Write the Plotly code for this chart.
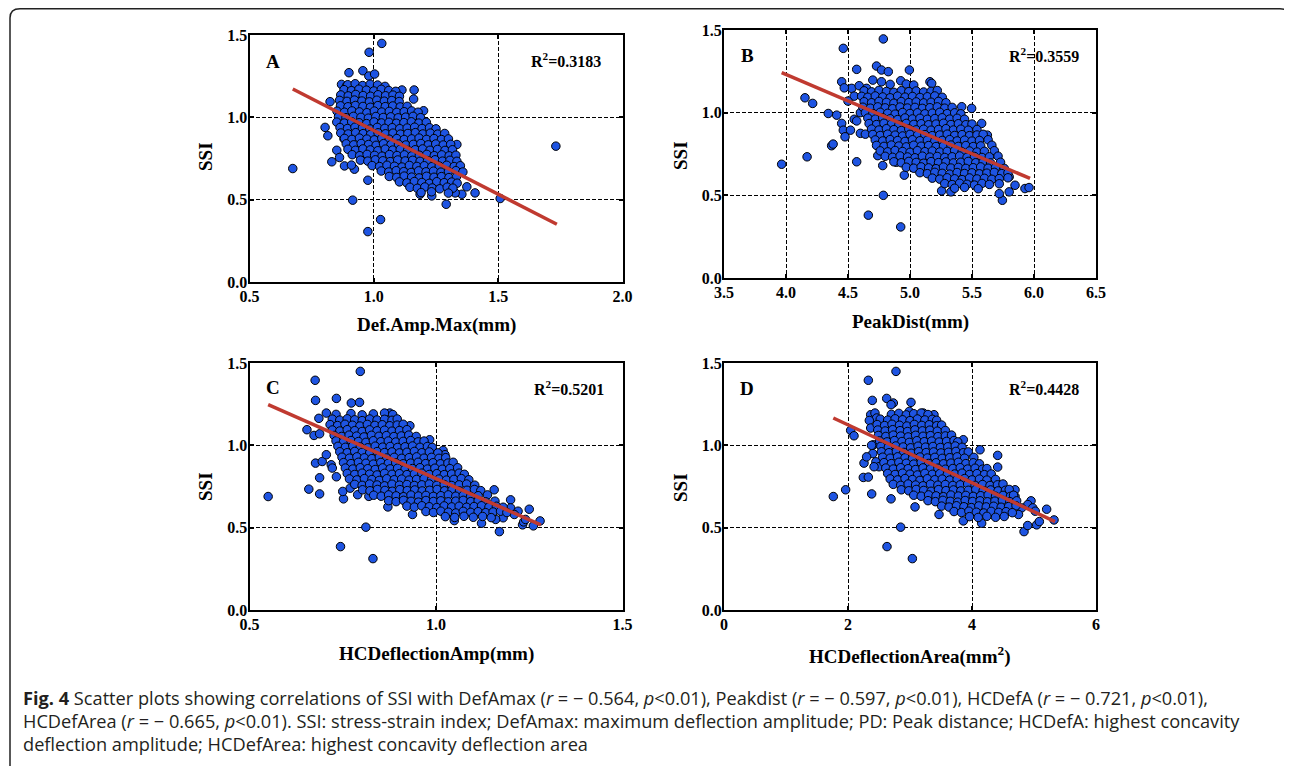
import plotly.graph_objects as go

# page body has an 8px margin: draw the figure 8px in from the window edges
OX, OY = 8, 8
W, H = 1284, 758

# ---------------- data ----------------
SSI_TICKS = [0.0, 0.5, 1.0, 1.5]

# Panel A: Def.Amp.Max (mm) vs SSI
A_pts = [
    (0.674, 0.689), (1.732, 0.825), (0.981, 1.395), (1.032, 1.449), (0.976, 0.306), (1.027, 0.379),
    (0.915, 0.497), (1.291, 0.472), (1.508, 0.507), (1.407, 0.541), (0.976, 0.618), (0.900, 1.271),
    (0.956, 1.283), (0.980, 1.251), (1.003, 1.263), (0.804, 0.939), (0.815, 0.888), (0.831, 0.730),
    (0.851, 0.800), (0.862, 0.756), (0.882, 0.705), (0.922, 0.685), (0.824, 1.095), (1.113, 1.166),
    (1.162, 1.166), (1.160, 1.111), (1.200, 1.040), (1.334, 0.835), (1.374, 0.578), (1.354, 0.533),
    (1.327, 0.541), (1.233, 0.523), (1.186, 0.533), (0.910, 0.710), (0.870, 0.935), (0.880, 0.870),
    (0.900, 0.840), (0.870, 1.200), (0.890, 1.190),
    (0.895, 1.198), (0.925, 1.204), (0.955, 1.193), (0.985, 1.201), (1.015, 1.196), (1.045, 1.188),
    (0.880, 1.168), (0.910, 1.162), (0.940, 1.171), (0.970, 1.165), (1.000, 1.160), (1.030, 1.170), (1.060, 1.163), (1.088, 1.158),
    (0.867, 1.136), (0.897, 1.130), (0.927, 1.139), (0.957, 1.132), (0.987, 1.128), (1.017, 1.137), (1.047, 1.131), (1.077, 1.135), (1.103, 1.128),
    (0.862, 1.103), (0.892, 1.097), (0.922, 1.105), (0.952, 1.099), (0.982, 1.094), (1.012, 1.104), (1.042, 1.098), (1.072, 1.102), (1.102, 1.096),
    (0.866, 1.070), (0.896, 1.064), (0.926, 1.072), (0.956, 1.066), (0.986, 1.061), (1.016, 1.071), (1.046, 1.065), (1.076, 1.069), (1.106, 1.063), (1.134, 1.067),
    (0.852, 1.037), (0.882, 1.031), (0.912, 1.039), (0.942, 1.033), (0.972, 1.028), (1.002, 1.038), (1.032, 1.032), (1.062, 1.036), (1.092, 1.030), (1.122, 1.034), (1.152, 1.039), (1.178, 1.031),
    (0.858, 1.004), (0.888, 0.998), (0.918, 1.006), (0.948, 1.000), (0.978, 0.995), (1.008, 1.005), (1.038, 0.999), (1.068, 1.003), (1.098, 0.997), (1.128, 1.001), (1.158, 1.006), (1.188, 0.998),
    (0.851, 0.971), (0.881, 0.965), (0.911, 0.973), (0.941, 0.967), (0.971, 0.962), (1.001, 0.972), (1.031, 0.966), (1.061, 0.970), (1.091, 0.964), (1.121, 0.968), (1.151, 0.973), (1.181, 0.965), (1.211, 0.970),
    (0.864, 0.938), (0.894, 0.932), (0.924, 0.940), (0.954, 0.934), (0.984, 0.929), (1.014, 0.939), (1.044, 0.933), (1.074, 0.937), (1.104, 0.931), (1.134, 0.935), (1.164, 0.940), (1.194, 0.932), (1.224, 0.937), (1.250, 0.930),
    (0.867, 0.905), (0.897, 0.899), (0.927, 0.907), (0.957, 0.901), (0.987, 0.896), (1.017, 0.906), (1.047, 0.900), (1.077, 0.904), (1.107, 0.898), (1.137, 0.902), (1.167, 0.907), (1.197, 0.899), (1.227, 0.904), (1.257, 0.898), (1.285, 0.902),
    (0.882, 0.872), (0.912, 0.866), (0.942, 0.874), (0.972, 0.868), (1.002, 0.863), (1.032, 0.873), (1.062, 0.867), (1.092, 0.871), (1.122, 0.865), (1.152, 0.869), (1.182, 0.874), (1.212, 0.866), (1.242, 0.871), (1.272, 0.865), (1.300, 0.869),
    (0.889, 0.839), (0.919, 0.833), (0.949, 0.841), (0.979, 0.835), (1.009, 0.830), (1.039, 0.840), (1.069, 0.834), (1.099, 0.838), (1.129, 0.832), (1.159, 0.836), (1.189, 0.841), (1.219, 0.833), (1.249, 0.838), (1.279, 0.832), (1.309, 0.836),
    (0.896, 0.806), (0.926, 0.800), (0.956, 0.808), (0.986, 0.802), (1.016, 0.797), (1.046, 0.807), (1.076, 0.801), (1.106, 0.805), (1.136, 0.799), (1.166, 0.803), (1.196, 0.808), (1.226, 0.800), (1.256, 0.805), (1.286, 0.799), (1.316, 0.803),
    (0.913, 0.773), (0.943, 0.767), (0.973, 0.775), (1.003, 0.769), (1.033, 0.764), (1.063, 0.774), (1.093, 0.768), (1.123, 0.772), (1.153, 0.766), (1.183, 0.770), (1.213, 0.775), (1.243, 0.767), (1.273, 0.772), (1.303, 0.766), (1.330, 0.770),
    (0.946, 0.740), (0.976, 0.734), (1.006, 0.742), (1.036, 0.736), (1.066, 0.731), (1.096, 0.741), (1.126, 0.735), (1.156, 0.739), (1.186, 0.733), (1.216, 0.737), (1.246, 0.742), (1.276, 0.734), (1.306, 0.739), (1.334, 0.733),
    (0.993, 0.707), (1.023, 0.701), (1.053, 0.709), (1.083, 0.703), (1.113, 0.698), (1.143, 0.708), (1.173, 0.702), (1.203, 0.706), (1.233, 0.700), (1.263, 0.704), (1.293, 0.709), (1.323, 0.701), (1.348, 0.706),
    (1.030, 0.674), (1.060, 0.668), (1.090, 0.676), (1.120, 0.670), (1.150, 0.665), (1.180, 0.675), (1.210, 0.669), (1.240, 0.673), (1.270, 0.667), (1.300, 0.671), (1.330, 0.676), (1.358, 0.668),
    (1.062, 0.641), (1.092, 0.635), (1.122, 0.643), (1.152, 0.637), (1.182, 0.632), (1.212, 0.642), (1.242, 0.636), (1.272, 0.640), (1.302, 0.634), (1.332, 0.638),
    (1.103, 0.608), (1.133, 0.602), (1.163, 0.610), (1.193, 0.604), (1.223, 0.599), (1.253, 0.609), (1.283, 0.603), (1.313, 0.607), (1.335, 0.600),
    (1.145, 0.575), (1.175, 0.569), (1.205, 0.577), (1.235, 0.571), (1.265, 0.566), (1.295, 0.576), (1.318, 0.570),
    (1.190, 0.543), (1.232, 0.548), (1.300, 0.540),
]

# Panel B: PeakDist (mm) vs SSI
B_pts = [
    (3.965, 0.688), (4.170, 0.733), (4.785, 1.446), (4.462, 1.389), (4.153, 1.090), (4.215, 1.056),
    (4.341, 0.995), (4.409, 0.985), (4.368, 0.800), (4.380, 0.810), (4.449, 0.935), (4.462, 0.894),
    (4.476, 0.854), (4.520, 0.894), (4.570, 1.262), (4.449, 1.187), (4.530, 1.147), (4.570, 0.703),
    (4.785, 0.500), (4.664, 0.380), (4.925, 0.309), (4.954, 0.622), (4.730, 1.282), (4.770, 1.258),
    (4.825, 1.248), (4.995, 1.258), (4.925, 1.193), (5.161, 1.187), (5.175, 1.177), (5.417, 1.036),
    (5.497, 1.026), (5.578, 0.935), (5.624, 0.864), (5.745, 0.470), (5.720, 0.510), (5.800, 0.521),
    (5.847, 0.561), (5.927, 0.541), (5.960, 0.547), (5.800, 0.612), (5.255, 0.527), (5.330, 0.521),
    (4.590, 1.163), (4.650, 1.147), (4.700, 1.197), (4.770, 1.187), (4.840, 1.171), (4.970, 1.173),
    (5.030, 1.167), (4.550, 0.960), (4.570, 0.950), (4.600, 0.875), (4.640, 0.870), (4.600, 1.000),
    (4.550, 1.100), (4.500, 1.070), (4.470, 1.150), (4.780, 0.680), (4.740, 0.740), (4.890, 0.700),
    (4.63, 1.132), (4.69, 1.126), (4.75, 1.135), (4.81, 1.128), (4.87, 1.123), (4.93, 1.133), (4.99, 1.127), (5.05, 1.131), (5.11, 1.125), (5.17, 1.129), (5.22, 1.134),
    (4.61, 1.099), (4.66, 1.093), (4.72, 1.101), (4.78, 1.095), (4.84, 1.090), (4.90, 1.100), (4.96, 1.094), (5.02, 1.098), (5.08, 1.092), (5.14, 1.096), (5.20, 1.101), (5.26, 1.093),
    (4.63, 1.066), (4.69, 1.060), (4.75, 1.068), (4.81, 1.062), (4.87, 1.057), (4.93, 1.067), (4.99, 1.061), (5.05, 1.065), (5.11, 1.059), (5.17, 1.063), (5.23, 1.068), (5.29, 1.060),
    (4.62, 1.033), (4.68, 1.027), (4.74, 1.035), (4.80, 1.029), (4.86, 1.024), (4.92, 1.034), (4.98, 1.028), (5.04, 1.032), (5.10, 1.026), (5.16, 1.030), (5.22, 1.035), (5.28, 1.027), (5.34, 1.032),
    (4.64, 1.000), (4.70, 0.994), (4.76, 1.002), (4.82, 0.996), (4.88, 0.991), (4.94, 1.001), (5.00, 0.995), (5.06, 0.999), (5.12, 0.993), (5.18, 0.997), (5.24, 1.002), (5.30, 0.994), (5.36, 0.999), (5.41, 0.993),
    (4.66, 0.967), (4.72, 0.961), (4.78, 0.969), (4.84, 0.963), (4.90, 0.958), (4.96, 0.968), (5.02, 0.962), (5.08, 0.966), (5.14, 0.960), (5.20, 0.964), (5.26, 0.969), (5.32, 0.961), (5.38, 0.966), (5.44, 0.960),
    (4.67, 0.934), (4.73, 0.928), (4.79, 0.936), (4.85, 0.930), (4.91, 0.925), (4.97, 0.935), (5.03, 0.929), (5.09, 0.933), (5.15, 0.927), (5.21, 0.931), (5.27, 0.936), (5.33, 0.928), (5.39, 0.933), (5.45, 0.927), (5.50, 0.931),
    (4.69, 0.901), (4.75, 0.895), (4.81, 0.903), (4.87, 0.897), (4.93, 0.892), (4.99, 0.902), (5.05, 0.896), (5.11, 0.900), (5.17, 0.894), (5.23, 0.898), (5.29, 0.903), (5.35, 0.895), (5.41, 0.900), (5.47, 0.894), (5.54, 0.898),
    (4.70, 0.868), (4.76, 0.862), (4.82, 0.870), (4.88, 0.864), (4.94, 0.859), (5.00, 0.869), (5.06, 0.863), (5.12, 0.867), (5.18, 0.861), (5.24, 0.865), (5.30, 0.870), (5.36, 0.862), (5.42, 0.867), (5.48, 0.861), (5.54, 0.865), (5.59, 0.869),
    (4.72, 0.835), (4.78, 0.829), (4.84, 0.837), (4.90, 0.831), (4.96, 0.826), (5.02, 0.836), (5.08, 0.830), (5.14, 0.834), (5.20, 0.828), (5.26, 0.832), (5.32, 0.837), (5.38, 0.829), (5.44, 0.834), (5.50, 0.828), (5.56, 0.832), (5.63, 0.836),
    (4.73, 0.802), (4.79, 0.796), (4.85, 0.804), (4.91, 0.798), (4.97, 0.793), (5.03, 0.803), (5.09, 0.797), (5.15, 0.801), (5.21, 0.795), (5.27, 0.799), (5.33, 0.804), (5.39, 0.796), (5.45, 0.801), (5.51, 0.795), (5.57, 0.799), (5.66, 0.803),
    (4.76, 0.769), (4.82, 0.763), (4.88, 0.771), (4.94, 0.765), (5.00, 0.760), (5.06, 0.770), (5.12, 0.764), (5.18, 0.768), (5.24, 0.762), (5.30, 0.766), (5.36, 0.771), (5.42, 0.763), (5.48, 0.768), (5.54, 0.762), (5.60, 0.766), (5.68, 0.770),
    (4.80, 0.736), (4.86, 0.730), (4.92, 0.738), (4.98, 0.732), (5.04, 0.727), (5.10, 0.737), (5.16, 0.731), (5.22, 0.735), (5.28, 0.729), (5.34, 0.733), (5.40, 0.738), (5.46, 0.730), (5.52, 0.735), (5.58, 0.729), (5.64, 0.733), (5.71, 0.737),
    (4.87, 0.703), (4.93, 0.697), (4.99, 0.705), (5.05, 0.699), (5.11, 0.694), (5.17, 0.704), (5.23, 0.698), (5.29, 0.702), (5.35, 0.696), (5.41, 0.700), (5.47, 0.705), (5.53, 0.697), (5.59, 0.702), (5.65, 0.696), (5.73, 0.700),
    (4.97, 0.670), (5.03, 0.664), (5.09, 0.672), (5.15, 0.666), (5.21, 0.661), (5.27, 0.671), (5.33, 0.665), (5.39, 0.669), (5.45, 0.663), (5.51, 0.667), (5.57, 0.672), (5.63, 0.664), (5.69, 0.669), (5.76, 0.663),
    (5.08, 0.637), (5.14, 0.631), (5.20, 0.639), (5.26, 0.633), (5.32, 0.628), (5.38, 0.638), (5.44, 0.632), (5.50, 0.636), (5.56, 0.630), (5.62, 0.634), (5.68, 0.639), (5.74, 0.631), (5.79, 0.636),
    (5.18, 0.604), (5.24, 0.598), (5.30, 0.606), (5.36, 0.600), (5.42, 0.595), (5.48, 0.605), (5.54, 0.599), (5.60, 0.603), (5.66, 0.597), (5.72, 0.601), (5.79, 0.606),
    (5.28, 0.571), (5.34, 0.565), (5.40, 0.573), (5.46, 0.567), (5.52, 0.562), (5.58, 0.572), (5.64, 0.566), (5.72, 0.570),
    (5.36, 0.543), (5.44, 0.548), (5.55, 0.540),
]

# Panel C: HCDeflectionAmp (mm) vs SSI
C_pts = [
    (0.550, 0.689), (0.676, 1.395), (0.797, 1.449), (0.677, 1.273), (0.733, 1.285), (0.773, 1.257),
    (0.795, 1.261), (0.654, 1.095), (0.673, 1.060), (0.688, 1.070), (0.686, 1.164), (0.706, 1.196),
    (0.677, 0.892), (0.695, 0.902), (0.706, 0.943), (0.719, 0.882), (0.722, 0.862), (0.688, 0.803),
    (0.733, 0.809), (0.659, 0.734), (0.688, 0.705), (0.752, 0.675), (0.812, 0.503), (0.744, 0.385),
    (0.831, 0.312), (0.871, 0.626), (0.937, 0.580), (1.170, 0.476), (1.122, 0.527), (1.049, 0.543),
    (1.250, 0.612), (1.279, 0.541), (1.261, 0.511), (1.232, 0.517), (1.200, 0.669), (1.156, 0.730),
    (0.983, 1.034), (0.930, 1.119), (0.876, 1.196), (1.019, 0.969), (1.024, 0.943), (1.200, 0.620),
    (1.220, 0.600), (1.210, 0.580), (1.180, 0.560), (1.160, 0.550), (1.235, 0.535), (1.240, 0.550),
    (0.750, 0.720), (0.770, 0.740), (0.790, 0.700), (0.820, 0.690),
    (0.732, 1.188), (0.772, 1.193), (0.802, 1.185), (0.832, 1.191), (0.862, 1.196), (0.884, 1.187),
    (0.722, 1.159), (0.742, 1.153), (0.762, 1.161), (0.782, 1.155), (0.802, 1.150), (0.822, 1.160), (0.842, 1.154), (0.862, 1.158), (0.882, 1.152), (0.896, 1.160),
    (0.716, 1.126), (0.736, 1.120), (0.756, 1.128), (0.776, 1.122), (0.796, 1.117), (0.816, 1.127), (0.836, 1.121), (0.856, 1.125), (0.876, 1.119), (0.896, 1.123), (0.912, 1.128),
    (0.722, 1.093), (0.742, 1.087), (0.762, 1.095), (0.782, 1.089), (0.802, 1.084), (0.822, 1.094), (0.842, 1.088), (0.862, 1.092), (0.882, 1.086), (0.902, 1.090), (0.922, 1.095),
    (0.727, 1.060), (0.747, 1.054), (0.767, 1.062), (0.787, 1.056), (0.807, 1.051), (0.827, 1.061), (0.847, 1.055), (0.867, 1.059), (0.887, 1.053), (0.907, 1.057), (0.927, 1.062), (0.947, 1.054),
    (0.732, 1.027), (0.752, 1.021), (0.772, 1.029), (0.792, 1.023), (0.812, 1.018), (0.832, 1.028), (0.852, 1.022), (0.872, 1.026), (0.892, 1.020), (0.912, 1.024), (0.932, 1.029), (0.952, 1.021), (0.968, 1.026),
    (0.737, 0.994), (0.757, 0.988), (0.777, 0.996), (0.797, 0.990), (0.817, 0.985), (0.837, 0.995), (0.857, 0.989), (0.877, 0.993), (0.897, 0.987), (0.917, 0.991), (0.937, 0.996), (0.957, 0.988), (0.977, 0.993), (0.990, 0.987),
    (0.742, 0.961), (0.762, 0.955), (0.782, 0.963), (0.802, 0.957), (0.822, 0.952), (0.842, 0.962), (0.862, 0.956), (0.882, 0.960), (0.902, 0.954), (0.922, 0.958), (0.942, 0.963), (0.962, 0.955), (0.982, 0.960), (1.005, 0.954),
    (0.748, 0.928), (0.768, 0.922), (0.788, 0.930), (0.808, 0.924), (0.828, 0.919), (0.848, 0.929), (0.868, 0.923), (0.888, 0.927), (0.908, 0.921), (0.928, 0.925), (0.948, 0.930), (0.968, 0.922), (0.988, 0.927), (1.008, 0.921), (1.026, 0.925),
    (0.752, 0.895), (0.772, 0.889), (0.792, 0.897), (0.812, 0.891), (0.832, 0.886), (0.852, 0.896), (0.872, 0.890), (0.892, 0.894), (0.912, 0.888), (0.932, 0.892), (0.952, 0.897), (0.972, 0.889), (0.992, 0.894), (1.012, 0.888), (1.032, 0.892), (1.046, 0.897),
    (0.757, 0.862), (0.777, 0.856), (0.797, 0.864), (0.817, 0.858), (0.837, 0.853), (0.857, 0.863), (0.877, 0.857), (0.897, 0.861), (0.917, 0.855), (0.937, 0.859), (0.957, 0.864), (0.977, 0.856), (0.997, 0.861), (1.017, 0.855), (1.037, 0.859), (1.058, 0.864),
    (0.762, 0.829), (0.782, 0.823), (0.802, 0.831), (0.822, 0.825), (0.842, 0.820), (0.862, 0.830), (0.882, 0.824), (0.902, 0.828), (0.922, 0.822), (0.942, 0.826), (0.962, 0.831), (0.982, 0.823), (1.002, 0.828), (1.022, 0.822), (1.042, 0.826), (1.062, 0.831), (1.076, 0.824),
    (0.768, 0.796), (0.788, 0.790), (0.808, 0.798), (0.828, 0.792), (0.848, 0.787), (0.868, 0.797), (0.888, 0.791), (0.908, 0.795), (0.928, 0.789), (0.948, 0.793), (0.968, 0.798), (0.988, 0.790), (1.008, 0.795), (1.028, 0.789), (1.048, 0.793), (1.068, 0.798), (1.088, 0.791),
    (0.782, 0.763), (0.802, 0.757), (0.822, 0.765), (0.842, 0.759), (0.862, 0.754), (0.882, 0.764), (0.902, 0.758), (0.922, 0.762), (0.942, 0.756), (0.962, 0.760), (0.982, 0.765), (1.002, 0.757), (1.022, 0.762), (1.042, 0.756), (1.062, 0.760), (1.082, 0.765), (1.104, 0.758),
    (0.803, 0.730), (0.823, 0.724), (0.843, 0.732), (0.863, 0.726), (0.883, 0.721), (0.903, 0.731), (0.923, 0.725), (0.943, 0.729), (0.963, 0.723), (0.983, 0.727), (1.003, 0.732), (1.023, 0.724), (1.043, 0.729), (1.063, 0.723), (1.083, 0.727), (1.103, 0.732), (1.120, 0.725),
    (0.833, 0.697), (0.853, 0.691), (0.873, 0.699), (0.893, 0.693), (0.913, 0.688), (0.933, 0.698), (0.953, 0.692), (0.973, 0.696), (0.993, 0.690), (1.013, 0.694), (1.033, 0.699), (1.053, 0.691), (1.073, 0.696), (1.093, 0.690), (1.113, 0.694), (1.138, 0.699),
    (0.873, 0.664), (0.893, 0.658), (0.913, 0.666), (0.933, 0.660), (0.953, 0.655), (0.973, 0.665), (0.993, 0.659), (1.013, 0.663), (1.033, 0.657), (1.053, 0.661), (1.073, 0.666), (1.093, 0.658), (1.113, 0.663), (1.133, 0.657), (1.158, 0.661),
    (0.922, 0.631), (0.942, 0.625), (0.962, 0.633), (0.982, 0.627), (1.002, 0.622), (1.022, 0.632), (1.042, 0.626), (1.062, 0.630), (1.082, 0.624), (1.102, 0.628), (1.122, 0.633), (1.142, 0.625), (1.162, 0.630), (1.180, 0.624),
    (0.973, 0.598), (0.993, 0.592), (1.013, 0.600), (1.033, 0.594), (1.053, 0.589), (1.073, 0.599), (1.093, 0.593), (1.113, 0.597), (1.133, 0.591), (1.153, 0.595), (1.173, 0.600), (1.190, 0.592),
    (1.025, 0.567), (1.050, 0.562), (1.075, 0.569), (1.100, 0.563), (1.125, 0.568), (1.148, 0.561),
]

# Panel D: HCDeflectionArea (mm^2) vs SSI
D_pts = [
    (1.763, 0.689), (1.962, 0.730), (2.774, 1.449), (2.328, 1.395), (2.392, 1.273), (2.624, 1.285),
    (2.731, 1.257), (2.694, 1.247), (3.016, 1.261), (2.366, 1.186), (2.435, 1.196), (2.462, 1.166),
    (2.344, 1.151), (2.366, 1.105), (2.043, 1.091), (2.097, 1.058), (2.409, 1.003), (2.258, 0.892),
    (2.247, 0.805), (2.328, 0.807), (2.382, 0.705), (2.694, 0.675), (2.849, 0.503), (2.629, 0.385),
    (3.038, 0.312), (3.081, 0.626), (3.468, 0.580), (3.860, 0.541), (4.156, 0.527), (4.839, 0.476),
    (4.898, 0.513), (5.043, 0.517), (5.086, 0.537), (5.204, 0.612), (5.323, 0.547), (4.952, 0.663),
    (4.414, 0.868), (4.414, 0.939), (4.129, 0.973), (3.860, 1.034), (3.387, 1.186), (3.215, 1.196),
    (2.989, 1.206), (3.484, 1.119), (4.694, 0.730), (4.694, 0.690), (4.900, 0.640), (4.980, 0.620),
    (5.020, 0.600), (4.800, 0.620), (4.750, 0.580), (2.400, 0.950), (2.450, 0.900), (2.380, 1.000),
    (2.500, 0.870), (2.300, 0.930), (2.420, 0.870),
    (2.70, 1.188), (2.82, 1.194), (2.94, 1.185), (3.06, 1.192), (3.18, 1.196), (3.29, 1.187),
    (2.52, 1.159), (2.64, 1.153), (2.76, 1.161), (2.88, 1.155), (3.00, 1.150), (3.12, 1.160), (3.24, 1.154), (3.36, 1.158), (3.43, 1.152),
    (2.47, 1.126), (2.59, 1.120), (2.71, 1.128), (2.83, 1.122), (2.95, 1.117), (3.07, 1.127), (3.19, 1.121), (3.31, 1.125), (3.43, 1.119), (3.51, 1.123),
    (2.48, 1.093), (2.60, 1.087), (2.72, 1.095), (2.84, 1.089), (2.96, 1.084), (3.08, 1.094), (3.20, 1.088), (3.32, 1.092), (3.44, 1.086), (3.57, 1.090),
    (2.49, 1.060), (2.61, 1.054), (2.73, 1.062), (2.85, 1.056), (2.97, 1.051), (3.09, 1.061), (3.21, 1.055), (3.33, 1.059), (3.45, 1.053), (3.57, 1.057), (3.67, 1.062),
    (2.51, 1.027), (2.63, 1.021), (2.75, 1.029), (2.87, 1.023), (2.99, 1.018), (3.11, 1.028), (3.23, 1.022), (3.35, 1.026), (3.47, 1.020), (3.59, 1.024), (3.71, 1.029), (3.77, 1.021),
    (2.53, 0.994), (2.65, 0.988), (2.77, 0.996), (2.89, 0.990), (3.01, 0.985), (3.13, 0.995), (3.25, 0.989), (3.37, 0.993), (3.49, 0.987), (3.61, 0.991), (3.73, 0.996), (3.84, 0.988),
    (2.54, 0.961), (2.66, 0.955), (2.78, 0.963), (2.90, 0.957), (3.02, 0.952), (3.14, 0.962), (3.26, 0.956), (3.38, 0.960), (3.50, 0.954), (3.62, 0.958), (3.74, 0.963), (3.86, 0.955), (3.94, 0.960),
    (2.56, 0.928), (2.68, 0.922), (2.80, 0.930), (2.92, 0.924), (3.04, 0.919), (3.16, 0.929), (3.28, 0.923), (3.40, 0.927), (3.52, 0.921), (3.64, 0.925), (3.76, 0.930), (3.88, 0.922), (4.03, 0.927),
    (2.58, 0.895), (2.70, 0.889), (2.82, 0.897), (2.94, 0.891), (3.06, 0.886), (3.18, 0.896), (3.30, 0.890), (3.42, 0.894), (3.54, 0.888), (3.66, 0.892), (3.78, 0.897), (3.90, 0.889), (4.02, 0.894), (4.12, 0.888),
    (2.61, 0.862), (2.73, 0.856), (2.85, 0.864), (2.97, 0.858), (3.09, 0.853), (3.21, 0.863), (3.33, 0.857), (3.45, 0.861), (3.57, 0.855), (3.69, 0.859), (3.81, 0.864), (3.93, 0.856), (4.05, 0.861), (4.17, 0.855), (4.24, 0.859),
    (2.64, 0.829), (2.76, 0.823), (2.88, 0.831), (3.00, 0.825), (3.12, 0.820), (3.24, 0.830), (3.36, 0.824), (3.48, 0.828), (3.60, 0.822), (3.72, 0.826), (3.84, 0.831), (3.96, 0.823), (4.08, 0.828), (4.20, 0.822), (4.31, 0.826),
    (2.68, 0.796), (2.80, 0.790), (2.92, 0.798), (3.04, 0.792), (3.16, 0.787), (3.28, 0.797), (3.40, 0.791), (3.52, 0.795), (3.64, 0.789), (3.76, 0.793), (3.88, 0.798), (4.00, 0.790), (4.12, 0.795), (4.24, 0.789), (4.38, 0.793),
    (2.73, 0.763), (2.85, 0.757), (2.97, 0.765), (3.09, 0.759), (3.21, 0.754), (3.33, 0.764), (3.45, 0.758), (3.57, 0.762), (3.69, 0.756), (3.81, 0.760), (3.93, 0.765), (4.05, 0.757), (4.17, 0.762), (4.29, 0.756), (4.41, 0.760), (4.50, 0.765),
    (2.86, 0.730), (2.98, 0.724), (3.10, 0.732), (3.22, 0.726), (3.34, 0.721), (3.46, 0.731), (3.58, 0.725), (3.70, 0.729), (3.82, 0.723), (3.94, 0.727), (4.06, 0.732), (4.18, 0.724), (4.30, 0.729), (4.42, 0.723), (4.54, 0.727), (4.60, 0.732),
    (3.06, 0.697), (3.18, 0.691), (3.30, 0.699), (3.42, 0.693), (3.54, 0.688), (3.66, 0.698), (3.78, 0.692), (3.90, 0.696), (4.02, 0.690), (4.14, 0.694), (4.26, 0.699), (4.38, 0.691), (4.50, 0.696), (4.62, 0.690), (4.67, 0.697),
    (3.29, 0.664), (3.41, 0.658), (3.53, 0.666), (3.65, 0.660), (3.77, 0.655), (3.89, 0.665), (4.01, 0.659), (4.13, 0.663), (4.25, 0.657), (4.37, 0.661), (4.49, 0.666), (4.61, 0.658), (4.72, 0.663),
    (3.51, 0.631), (3.63, 0.625), (3.75, 0.633), (3.87, 0.627), (3.99, 0.622), (4.11, 0.632), (4.23, 0.626), (4.35, 0.630), (4.47, 0.624), (4.59, 0.628), (4.71, 0.633),
    (3.71, 0.598), (3.83, 0.592), (3.95, 0.600), (4.07, 0.594), (4.19, 0.589), (4.31, 0.599), (4.43, 0.593), (4.55, 0.597), (4.65, 0.591),
    (3.96, 0.567), (4.10, 0.562), (4.24, 0.569), (4.38, 0.563), (4.52, 0.568),
]

# Fitted regression lines (end points)
A_fit_x, A_fit_y = [0.674, 1.736], [1.172, 0.351]
B_fit_x, B_fit_y = [3.965, 5.968], [1.242, 0.602]
C_fit_x, C_fit_y = [0.550, 1.281], [1.247, 0.517]
D_fit_x, D_fit_y = [1.763, 5.339], [1.166, 0.537]

panel_letters = ["A", "B", "C", "D"]
r2_values = ["0.3183", "0.3559", "0.5201", "0.4428"]
x_titles = ["Def.Amp.Max(mm)", "PeakDist(mm)", "HCDeflectionAmp(mm)", "HCDeflectionArea(mm<sup>2</sup>)"]
y_title = "SSI"
x_ranges = [[0.5, 2.0], [3.5, 6.5], [0.5, 1.5], [0, 6]]
x_dticks = [0.5, 0.5, 0.5, 2]
x_formats = [".1f", ".1f", ".1f", "d"]

caption_lines = [
    "<b>Fig. 4</b> Scatter plots showing correlations of SSI with DefAmax (<i>r</i> = − 0.564, <i>p</i>&lt;0.01), "
    "Peakdist (<i>r</i> = − 0.597, <i>p</i>&lt;0.01), HCDefA (<i>r</i> = − 0.721, <i>p</i>&lt;0.01),",
    "HCDefArea (<i>r</i> = − 0.665, <i>p</i>&lt;0.01). SSI: stress-strain index; DefAmax: maximum deflection "
    "amplitude; PD: Peak distance; HCDefA: highest concavity",
    "deflection amplitude; HCDefArea: highest concavity deflection area",
]

# ---------------- layout geometry (window pixels) ----------------
# plot-area boxes: left, right, top, bottom
boxes = [(249.5, 622.5, 35, 282), (724, 1096, 30, 278), (249.5, 622.5, 363, 610), (724, 1096, 363, 610)]
letter_pos = [(273, 61), (747, 55), (273, 387), (747, 388)]
r2_pos = [(603, 60), (1081, 55), (606, 388), (1081, 388)]
xtitle_pos = [(436, 325), (910, 322), (436, 654), (910, 655)]
ytitle_pos = [(205, 157), (680, 155), (205, 487), (680, 487)]

SERIF = "Liberation Serif"
MARKER_BLUE = "rgb(30,84,226)"
LINE_RED = "rgb(192,58,48)"


def px(x):
    return (x - OX) / W


def py(y):
    return 1 - (y - OY) / H


fig = go.Figure()
all_pts = [A_pts, B_pts, C_pts, D_pts]
fits = [(A_fit_x, A_fit_y), (B_fit_x, B_fit_y), (C_fit_x, C_fit_y), (D_fit_x, D_fit_y)]

layout_axes = {}
annotations = []
for i in range(4):
    sfx = "" if i == 0 else str(i + 1)
    xs = [p[0] for p in all_pts[i]]
    ys = [p[1] for p in all_pts[i]]
    fig.add_trace(go.Scatter(
        x=xs, y=ys, mode="markers", xaxis="x" + sfx, yaxis="y" + sfx, showlegend=False,
        marker=dict(size=8.5, color=MARKER_BLUE, line=dict(color="black", width=1)),
        hoverinfo="skip",
    ))
    fx, fy = fits[i]
    fig.add_trace(go.Scatter(
        x=fx, y=fy, mode="lines", xaxis="x" + sfx, yaxis="y" + sfx, showlegend=False,
        line=dict(color=LINE_RED, width=3.5), hoverinfo="skip",
    ))
    l, r, t, b = boxes[i]
    common = dict(
        showline=True, linecolor="black", linewidth=2, mirror="ticks",
        ticks="inside", ticklen=4, tickwidth=2, tickcolor="black",
        showgrid=True, gridcolor="black", gridwidth=1, griddash="4px,2px",
        zeroline=False, automargin=False,
        tickfont=dict(family=SERIF, size=16, color="black", weight="bold"),
    )
    layout_axes["xaxis" + sfx] = dict(
        domain=[px(l), px(r)], anchor="y" + sfx, range=x_ranges[i], dtick=x_dticks[i],
        tick0=x_ranges[i][0], tickformat=x_formats[i], ticklabelstandoff=-1, **common,
    )
    layout_axes["yaxis" + sfx] = dict(
        domain=[py(b), py(t)], anchor="x" + sfx, range=[0, 1.5], tickvals=SSI_TICKS,
        tickformat=".1f", ticklabelstandoff=-3, **common,
    )
    lx, ly = letter_pos[i]
    annotations.append(dict(x=px(lx), y=py(ly), xref="paper", yref="paper", text="<b>%s</b>" % panel_letters[i],
                            showarrow=False, xanchor="center", yanchor="middle",
                            font=dict(family=SERIF, size=19, color="black")))
    rx, ry = r2_pos[i]
    annotations.append(dict(x=px(rx), y=py(ry), xref="paper", yref="paper",
                            text="<b>R<sup>2</sup>=%s</b>" % r2_values[i],
                            showarrow=False, xanchor="right", yanchor="middle",
                            font=dict(family=SERIF, size=16, color="black")))
    tx, ty = xtitle_pos[i]
    annotations.append(dict(x=px(tx), y=py(ty), xref="paper", yref="paper", text="<b>%s</b>" % x_titles[i],
                            showarrow=False, xanchor="center", yanchor="middle",
                            font=dict(family=SERIF, size=19, color="black")))
    sx, sy = ytitle_pos[i]
    annotations.append(dict(x=px(sx), y=py(sy), xref="paper", yref="paper", text="<b>%s</b>" % y_title,
                            showarrow=False, xanchor="center", yanchor="middle", textangle=-90,
                            font=dict(family=SERIF, size=19, color="black")))

cap_y = [698, 721, 744]
for line, yy in zip(caption_lines, cap_y):
    annotations.append(dict(x=px(21), y=py(yy), xref="paper", yref="paper", text=line,
                            showarrow=False, xanchor="left", yanchor="middle", align="left",
                            font=dict(family="Open Sans", size=18.2, color="#231f20")))

# rounded outer frame
def P(x, y):
    return "%.5f,%.5f" % (px(x), py(y))

frame_path = ("M " + P(10, 775) + " L " + P(10, 18) + " Q " + P(10, 8.8) + " " + P(20, 8.8) +
              " L " + P(1280, 8.8) + " Q " + P(1290, 8.8) + " " + P(1290, 18) + " L " + P(1290, 775))

fig.update_layout(
    width=W, height=H, autosize=False,
    margin=dict(l=0, r=0, t=0, b=0, pad=0, autoexpand=False),
    paper_bgcolor="white", plot_bgcolor="white",
    annotations=annotations,
    shapes=[dict(type="path", path=frame_path, xref="paper", yref="paper",
                 line=dict(color="#222222", width=1.5))],
    **layout_axes,
)

fig.write_html("out.html")
